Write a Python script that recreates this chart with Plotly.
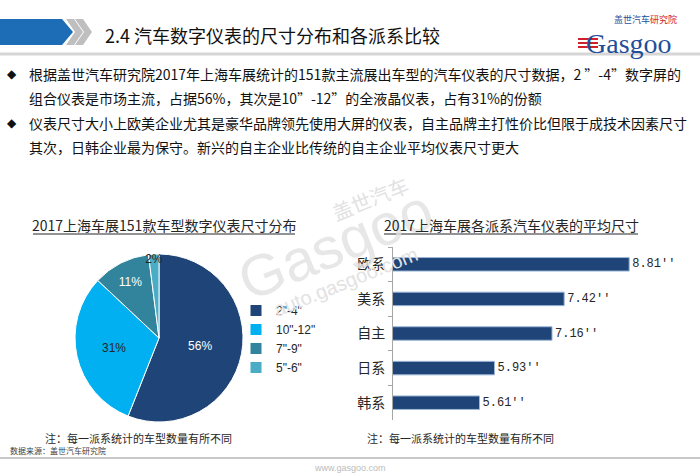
import plotly.graph_objects as go

W, H = 700, 476

# ---------------- data ----------------
pie_labels = ['2"-4"', '10"-12"', '7"-9"', '5"-6"']
pie_values = [56, 31, 11, 2]
pie_colors = ["#1F4578", "#00B0F0", "#31849B", "#4BACC6"]
pie_text_colors = ["white", "#262626", "white", "#262626"]

bar_categories = ["欧系", "美系", "自主", "日系", "韩系"]
bar_values = [8.81, 7.42, 7.16, 5.93, 5.61]

header_title = "2.4 汽车数字仪表的尺寸分布和各派系比较"
bullet_lines = [
    "根据盖世汽车研究院2017年上海车展统计的151款主流展出车型的汽车仪表的尺寸数据，2 ”-4”数字屏的",
    "组合仪表是市场主流，占据56%，其次是10”-12”的全液晶仪表，占有31%的份额",
    "仪表尺寸大小上欧美企业尤其是豪华品牌领先使用大屏的仪表，自主品牌主打性价比但限于成技术因素尺寸",
    "其次，日韩企业最为保守。新兴的自主企业比传统的自主企业平均仪表尺寸更大",
]
pie_title = "2017上海车展151款车型数字仪表尺寸分布"
bar_title = "2017上海车展各派系汽车仪表的平均尺寸"
note_text = "注：每一派系统计的车型数量有所不同"
source_text = "数据来源：盖世汽车研究院"

CJK = "Noto Sans CJK SC"


def px(x):
    return x / W


def py(y):
    return 1 - y / H


fig = go.Figure()

fig.add_trace(go.Pie(
    labels=pie_labels, values=pie_values, sort=False, direction="clockwise", rotation=0,
    marker=dict(colors=pie_colors, line=dict(color="white", width=1)),
    texttemplate="%{value}%", textposition="inside", insidetextorientation="horizontal",
    textfont=dict(family="Liberation Sans", size=12, color=pie_text_colors),
    domain=dict(x=[px(75), px(243)], y=[py(422), py(254)]),
    hoverinfo="label+percent", showlegend=True,
))

fig.add_trace(go.Bar(
    x=bar_values, y=bar_categories, orientation="h",
    marker=dict(color="#1F4578", line=dict(color="#9DB7D9", width=1)),
    texttemplate="%{x:.2f}''", textposition="outside", cliponaxis=False,
    textfont=dict(family="Liberation Mono", size=12, color="#262626"),
    xaxis="x", yaxis="y", showlegend=False,
))

ann = []
shapes = []

# header
shapes.append(dict(type="path", xref="paper", yref="paper",
                   path=f"M 0 {py(19)} L {px(62)} {py(19)} L {px(73)} {py(32)} L {px(62)} {py(45)} L 0 {py(45)} Z",
                   fillcolor="#1C6DB6", line=dict(width=0), layer="above"))
for x0 in (66, 75):
    shapes.append(dict(type="path", xref="paper", yref="paper",
                       path=(f"M {px(x0)} {py(19)} L {px(x0+8)} {py(19)} L {px(x0+17)} {py(32)} "
                             f"L {px(x0+8)} {py(45)} L {px(x0)} {py(45)} L {px(x0+9)} {py(32)} Z"),
                       fillcolor="#BFBFBF", line=dict(width=0)))
shapes.append(dict(type="line", xref="paper", yref="paper", x0=0, x1=1, y0=py(54), y1=py(54),
                   line=dict(color="#D6D6D6", width=3)))
ann.append(dict(text=header_title, x=px(103), y=py(35), xanchor="left", yanchor="middle",
                font=dict(family=CJK, size=18, color="#111111")))

# logo
ann.append(dict(text="盖世汽车<span style='color:#D0202E'>研究院</span>", x=px(613), y=py(27),
                xanchor="left", yanchor="bottom", font=dict(family=CJK, size=9, color="#1F4E9A"),
                borderpad=0))
ann.append(dict(text="Gasgoo", x=px(585), y=py(27), xanchor="left", yanchor="top",
                font=dict(family="Liberation Serif", size=28, color="#1F4E9A"), borderpad=0))
for yy in (39, 43, 47):
    shapes.append(dict(type="line", xref="paper", yref="paper", x0=px(578), x1=px(598),
                       y0=py(yy), y1=py(yy), line=dict(color="#D0202E", width=2), layer="above"))

# bullets
bullet_y = [74, 98, 123, 147]
for i, (t, yy) in enumerate(zip(bullet_lines, bullet_y)):
    ann.append(dict(text=t, x=px(27), y=py(yy), xanchor="left", yanchor="middle",
                    font=dict(family=CJK, size=14, color="#111111")))
    if i in (0, 2):
        ann.append(dict(text="◆", x=px(12), y=py(yy), xanchor="center", yanchor="middle",
                        font=dict(family="DejaVu Sans", size=12, color="#111111")))

# watermark
wm = "#E2E2E2"
ann.append(dict(text="盖世汽车", x=px(370), y=py(198), textangle=-22, showarrow=False,
                font=dict(family=CJK, size=20, color=wm)))
ann.append(dict(text="Gasgoo", x=px(335), y=py(245), textangle=-22, showarrow=False,
                font=dict(family="Liberation Sans", size=58, color=wm), opacity=0.8))
ann.append(dict(text="auto.gasgoo.com", x=px(345), y=py(282), textangle=-22, showarrow=False,
                font=dict(family="Liberation Sans", size=20, color=wm)))

# chart titles with underline
ann.append(dict(text=pie_title, x=px(164), y=py(225), xanchor="center", yanchor="middle",
                font=dict(family=CJK, size=14, color="#262626")))
shapes.append(dict(type="line", xref="paper", yref="paper", x0=px(33), x1=px(295), y0=py(234), y1=py(234),
                   line=dict(color="#262626", width=1)))
ann.append(dict(text=bar_title, x=px(511), y=py(225), xanchor="center", yanchor="middle",
                font=dict(family=CJK, size=14, color="#262626")))
shapes.append(dict(type="line", xref="paper", yref="paper", x0=px(384), x1=px(638), y0=py(234), y1=py(234),
                   line=dict(color="#262626", width=1)))

# notes
ann.append(dict(text=note_text, x=px(43), y=py(438), xanchor="left", yanchor="middle",
                font=dict(family=CJK, size=11, color="#262626")))
ann.append(dict(text=note_text, x=px(365), y=py(438), xanchor="left", yanchor="middle",
                font=dict(family=CJK, size=11, color="#262626")))
ann.append(dict(text=source_text, x=px(8), y=py(450), xanchor="left", yanchor="middle",
                font=dict(family=CJK, size=8, color="#404040")))

# footer
shapes.append(dict(type="line", xref="paper", yref="paper", x0=0, x1=1, y0=py(458), y1=py(458),
                   line=dict(color="#C8C8C8", width=2)))
ann.append(dict(text="www.gasgoo.com", x=px(350), y=py(468), xanchor="center", yanchor="middle",
                font=dict(family="Liberation Sans", size=9, color="#BBBBBB")))

for a in ann:
    a.setdefault("showarrow", False)
    a["xref"] = "paper"
    a["yref"] = "paper"

fig.update_layout(
    width=W, height=H, margin=dict(l=0, r=0, t=0, b=0),
    paper_bgcolor="white", plot_bgcolor="white",
    annotations=ann, shapes=shapes,
    uniformtext=dict(minsize=12, mode="show"),
    bargap=0.61,
    legend=dict(x=px(236), y=py(296), xanchor="left", yanchor="top",
                font=dict(family="Liberation Sans", size=12, color="#262626"),
                bgcolor="rgba(0,0,0,0)", itemclick=False),
    xaxis=dict(domain=[px(393), px(690)], range=[3.76, 10.11], visible=False, fixedrange=True),
    yaxis=dict(domain=[py(420), py(247)], type="category", categoryorder="array",
               categoryarray=bar_categories, autorange="reversed",
               showline=True, linecolor="#A6A6A6", linewidth=1,
               ticks="outside", ticklen=4, tickcolor="#A6A6A6", tickson="boundaries",
               ticklabelstandoff=4, showgrid=False,
               tickfont=dict(family=CJK, size=14, color="#262626"), fixedrange=True),
    font=dict(family=CJK),
)

fig.write_html("out.html", config={"displayModeBar": False},
               post_script="document.body.style.margin='0';document.body.style.padding='0';")
